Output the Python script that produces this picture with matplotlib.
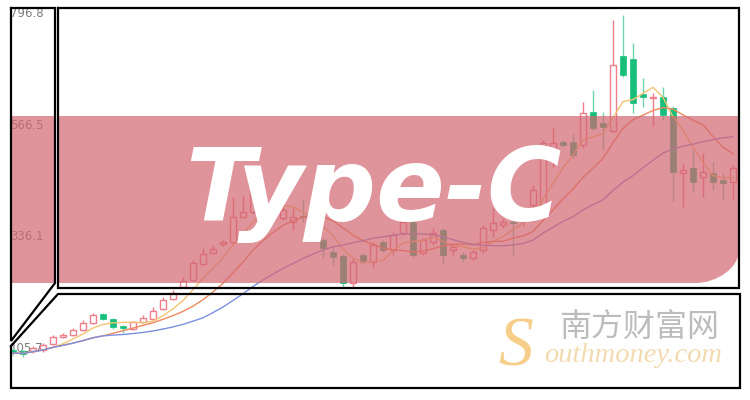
import matplotlib
matplotlib.use('Agg')
import matplotlib.pyplot as plt
import pandas as pd
from matplotlib.patches import Rectangle, PathPatch
from matplotlib.path import Path

# daily candles
open_ = [99.5, 97.5, 97.5, 99.5, 111.9, 126.4, 130.5, 140.8, 155.3, 173.8,
         163.5, 149.1, 142.9, 157.3, 163.5, 184.1, 204.8, 229.5, 244.0, 277.0,
         299.7, 318.2, 322.4, 373.9, 384.2, 409.0, 392.5, 371.9, 363.6, 376.0,
         371.9, 326.5, 301.7, 293.5, 237.8, 295.5, 281.1, 322.4, 305.8, 340.9,
         363.6, 299.7, 322.4, 347.1, 305.8, 295.5, 289.3, 305.8, 347.1, 357.4,
         363.6, 365.7, 398.7, 398.7, 497.7, 528.7, 528.7, 522.5, 590.5, 567.9,
         551.3, 706.1, 699.9, 627.7, 619.4, 621.5, 598.8, 464.7, 475.0, 456.4,
         464.7, 450.3, 446.1]
close = [93.4, 91.3, 103.7, 109.9, 126.4, 130.5, 140.8, 155.3, 171.8, 163.5,
         147.0, 144.9, 157.3, 165.6, 180.0, 202.7, 217.1, 241.9, 279.0, 297.6,
         307.9, 322.4, 373.9, 384.2, 429.6, 398.7, 384.2, 388.4, 373.9, 373.9,
         326.5, 310.0, 291.4, 237.8, 281.1, 281.1, 316.2, 305.8, 336.8, 363.6,
         295.5, 326.5, 340.9, 295.5, 312.0, 289.3, 301.7, 351.2, 361.6, 363.6,
         361.6, 371.9, 429.6, 526.6, 526.6, 522.5, 501.8, 588.5, 557.5, 559.6,
         687.5, 666.9, 609.1, 621.5, 621.5, 584.4, 466.8, 470.9, 446.1, 466.8,
         446.1, 444.1, 475.0]
high = [103.7, 99.5, 107.8, 114.0, 130.5, 134.6, 144.9, 161.4, 175.9, 175.9,
        165.6, 151.1, 159.4, 171.8, 188.3, 208.9, 223.3, 250.1, 285.2, 310.0,
        316.2, 326.5, 415.2, 419.3, 446.1, 417.3, 398.7, 394.6, 392.5, 409.0,
        376.0, 330.6, 312.0, 297.6, 289.3, 299.7, 322.4, 326.5, 343.0, 367.7,
        367.7, 330.6, 351.2, 351.2, 320.3, 301.7, 305.8, 357.4, 392.5, 371.9,
        378.1, 388.4, 439.9, 532.8, 559.6, 532.8, 545.2, 611.2, 635.9, 590.5,
        780.3, 790.7, 732.9, 660.7, 629.7, 642.1, 602.9, 485.3, 512.1, 506.0,
        487.4, 464.7, 481.2]
low = [89.2, 85.1, 93.4, 95.4, 109.9, 124.3, 128.4, 138.7, 153.2, 161.4,
       142.9, 134.6, 140.8, 155.3, 161.4, 182.1, 202.7, 227.5, 241.9, 274.9,
       297.6, 314.1, 320.3, 371.9, 380.1, 388.4, 378.1, 367.7, 347.1, 363.6,
       322.4, 289.3, 274.9, 229.5, 229.5, 277.0, 268.7, 301.7, 295.5, 336.8,
       291.4, 295.5, 316.2, 279.0, 295.5, 281.1, 285.2, 299.7, 332.7, 351.2,
       295.5, 355.4, 363.6, 394.6, 477.1, 518.3, 495.6, 516.3, 553.4, 512.1,
       549.3, 662.7, 588.5, 600.9, 561.7, 574.0, 404.9, 394.6, 425.5, 415.2,
       429.6, 409.0, 409.0]

y_ticks = [796.8, 566.5, 336.1, 105.7]
y_tick_labels = ['796.8', '566.5', '336.1', '105.7']
ma_windows = [5, 10, 20]
ma_colors = ['#f4c474', '#ee8a5e', '#7d90e0']

UP = '#ee7f8b'
DOWN = '#17bf7b'

fig = plt.figure(figsize=(7.5, 4), dpi=100)
ax = fig.add_axes([0, 0, 1, 1])
ax.set_xlim(-1.3, 73.7)
ax.set_ylim(-3.6, 821.6)

n = len(close)
xs = list(range(n))
w = 0.66
for i in xs:
    o, c, h, l = open_[i], close[i], high[i], low[i]
    if c >= o:
        ax.vlines(i, l, h, color=UP, lw=1, zorder=2)
        body = max(c - o, 2.5)
        ax.add_patch(Rectangle((i - w / 2, o), w, body, facecolor='white',
                               edgecolor=UP, lw=1, zorder=3))
    else:
        ax.vlines(i, l, h, color='#6fd6ad', lw=1, zorder=2)
        body = max(o - c, 2.5)
        ax.add_patch(Rectangle((i - w / 2, c), w, body, facecolor=DOWN,
                               edgecolor=DOWN, lw=0.5, zorder=3))

closes = pd.Series(close)
for win, col in zip(ma_windows, ma_colors):
    ma = closes.rolling(win, min_periods=1).mean()
    ax.plot(xs, ma, color=col, lw=1, zorder=4)

ax.set_xticks([])
ax.set_yticks(y_ticks)
ax.set_yticklabels(y_tick_labels)
ax.tick_params(axis='y', length=0, pad=-7, labelsize=8.5, labelcolor='#7e7e7e')
plt.setp(ax.get_yticklabels(), ha='left')
for s in ax.spines.values():
    s.set_visible(False)

# overlay in pixel coordinates: banner, frames, title, watermark
ov = fig.add_axes([0, 0, 1, 1], zorder=5)
ov.set_xlim(0, 750)
ov.set_ylim(400, 0)
ov.axis('off')

verts = [(11, 116), (739, 116), (739, 250), (739, 268), (717, 283), (695, 283),
         (11, 283), (11, 116)]
codes = [Path.MOVETO, Path.LINETO, Path.LINETO, Path.CURVE4, Path.CURVE4, Path.CURVE4,
         Path.LINETO, Path.CLOSEPOLY]
ov.add_patch(PathPatch(Path(verts, codes), facecolor='#d36771', edgecolor='none', alpha=0.71))
ov.add_patch(Rectangle((55, 8), 3.5, 282, facecolor='white', edgecolor='none'))

k = dict(color='black', lw=1.6, solid_joinstyle='miter')
ov.plot([11, 55, 55, 11, 11], [8, 8, 283, 341, 8], **k)
ov.plot([58, 739, 739, 58, 58], [8, 8, 288, 288, 8], **k)
ov.plot([11, 58, 740, 740, 11, 11], [346, 294, 294, 388, 388, 346], **k)

ov.text(373, 221, 'Type-C', ha='center', va='baseline', fontsize=73,
        fontweight='bold', style='oblique', color='white', family='DejaVu Sans')

ov.text(498, 366, 'S', ha='left', va='baseline', fontsize=50, style='italic',
        color='#f6c674', family='Liberation Serif', alpha=0.85)
ov.text(544, 362, 'outhmoney.com', ha='left', va='baseline', fontsize=20.5,
        style='italic', color='#f3dbb0', family='Liberation Serif')
ov.text(639, 328, '南方财富网', ha='center', va='center', fontsize=23,
        color='#bcbcbc', family=['Noto Sans CJK SC', 'DejaVu Sans'])

fig.savefig('out.png', dpi=100)
